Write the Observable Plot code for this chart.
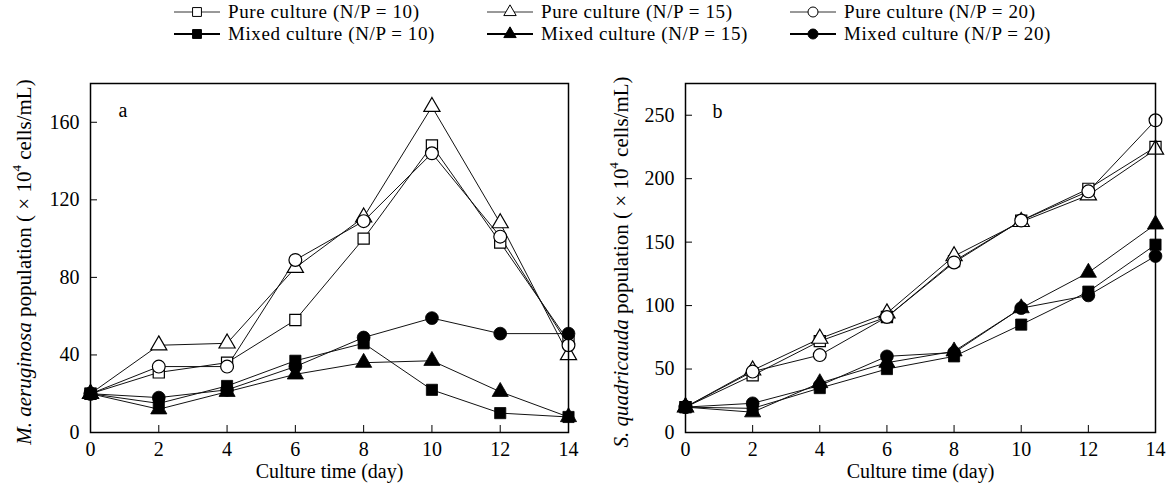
<!DOCTYPE html>
<html>
<head>
<meta charset="utf-8">
<script src="https://cdn.jsdelivr.net/npm/d3@7"></script>
<script src="https://cdn.jsdelivr.net/npm/@observablehq/plot@0.6"></script>
<style>
  body { margin: 0; background: #fff; font-family: "Liberation Serif", "Times New Roman", serif; }
  #wrap { position: relative; width: 1173px; height: 490px; overflow: hidden; }
  #legend { position: absolute; left: 0; top: 0; width: 1173px; height: 44px; }
  .item { position: absolute; display: flex; align-items: center; height: 18px; line-height: 18px; font-size: 19px; letter-spacing: 0.6px; color: #000; white-space: nowrap; }
  .item svg { margin-right: 8px; }
  #pa { position: absolute; left: 0; top: 44px; }
  #pb { position: absolute; left: 590px; top: 44px; }
</style>
</head>
<body>
<div id="wrap">
  <div id="legend"></div>
  <div id="pa"></div>
  <div id="pb"></div>
</div>
<script>
// ---- data ----
const days = [0, 2, 4, 6, 8, 10, 12, 14];
const seriesNames = [
  "Pure culture (N/P = 10)", "Pure culture (N/P = 15)", "Pure culture (N/P = 20)",
  "Mixed culture (N/P = 10)", "Mixed culture (N/P = 15)", "Mixed culture (N/P = 20)"
];
const seriesSymbols = ["square", "triangle", "circle", "square", "triangle", "circle"];
const seriesFilled = [false, false, false, true, true, true];

// Panel a: M. aeruginosa
const aPure10  = [20, 31, 36, 58, 100, 148, 98, 47];
const aPure15  = [20, 45, 46, 85, 111, 168, 108, 40];
const aPure20  = [20, 34, 34, 89, 109, 144, 101, 45];
const aMixed10 = [20, 15, 24, 37, 46, 22, 10, 8];
const aMixed15 = [20, 12, 21, 30, 36, 37, 21, 8];
const aMixed20 = [20, 18, 22, 34, 49, 59, 51, 51];

// Panel b: S. quadricauda
const bPure10  = [20, 45, 72, 91, 135, 167, 192, 225];
const bPure15  = [20, 49, 74, 94, 139, 166, 187, 223];
const bPure20  = [20, 48, 61, 91, 134, 167, 190, 246];
const bMixed10 = [20, 19, 35, 50, 60, 85, 111, 148];
const bMixed15 = [20, 16, 39, 55, 64, 98, 126, 164];
const bMixed20 = [20, 23, 37, 60, 63, 98, 108, 139];

const aTicks = [0, 40, 80, 120, 160];
const bTicks = [0, 50, 100, 150, 200, 250];
const xLabel = "Culture time (day)";

// ---- helpers ----
const FONT = "Liberation Serif, Times New Roman, serif";
const symbolR = {square: 6.3, triangle: 6, circle: 6.4};

function buildRows(seriesArrays) {
  const rows = [];
  seriesArrays.forEach((vals, i) => {
    vals.forEach((v, j) => rows.push({series: seriesNames[i], idx: i, day: days[j], value: v}));
  });
  return rows;
}

function panel({seriesArrays, yDomain, yTicks, width, marginLeft, marginRight, letter, letterDx, letterDy}) {
  const rows = buildRows(seriesArrays);
  const marks = [];
  seriesNames.forEach((name, i) => {
    marks.push(Plot.line(rows.filter(d => d.idx === i), {x: "day", y: "value", stroke: "#111", strokeWidth: 1}));
  });
  seriesNames.forEach((name, i) => {
    marks.push(Plot.dot(rows.filter(d => d.idx === i), {
      x: "day", y: "value",
      symbol: () => seriesSymbols[i],
      r: symbolR[seriesSymbols[i]],
      fill: seriesFilled[i] ? "#000" : "#fff",
      stroke: "#000",
      strokeWidth: seriesFilled[i] ? 0.8 : 1.2
    }));
  });
  marks.push(Plot.frame({stroke: "#000", strokeWidth: 1.5}));
  marks.push(Plot.axisX({ticks: days, tickSize: -7, tickPadding: 16, label: null, fontSize: 20, tickFormat: d => d}));
  marks.push(Plot.axisY({ticks: yTicks, tickSize: -7, tickPadding: 18, label: null, fontSize: 20, tickFormat: d => d}));
  marks.push(Plot.text([letter], {frameAnchor: "top-left", dx: letterDx, dy: letterDy, fontSize: 20, textAnchor: "start", lineAnchor: "top"}));
  marks.push(Plot.text([xLabel], {frameAnchor: "bottom", dy: 39, fontSize: 20, lineAnchor: "middle"}));
  const svg = Plot.plot({
    width, height: 446,
    marginLeft, marginRight, marginTop: 39, marginBottom: 58,
    style: {fontFamily: FONT, fontSize: "20px", color: "#000", background: "#fff", overflow: "visible"},
    x: {domain: [0, 14]},
    y: {domain: yDomain},
    symbol: {type: "identity"},
    marks
  });
  d3.select(svg).selectAll("text").attr("font-family", FONT).style("font-family", FONT);
  return svg;
}

function addYLabel(svg, cx, cy, species) {
  const t = d3.select(svg).append("text")
    .attr("transform", `translate(${cx},${cy}) rotate(-90)`)
    .attr("text-anchor", "middle")
    .attr("dominant-baseline", "middle")
    .attr("font-family", FONT)
    .attr("font-size", 21)
    .attr("fill", "#000");
  t.append("tspan").attr("font-style", "italic").text(species);
  t.append("tspan").text(" population ( \u00d7 10");
  t.append("tspan").attr("font-size", 13).attr("baseline-shift", "super").text("4");
  t.append("tspan").text(" cells/mL)");
}

const svgA = panel({
  seriesArrays: [aPure10, aPure15, aPure20, aMixed10, aMixed15, aMixed20],
  yDomain: [0, 180], yTicks: aTicks, width: 590, marginLeft: 90, marginRight: 22,
  letter: "a", letterDx: 28, letterDy: 19
});
document.getElementById("pa").appendChild(svgA);
addYLabel(svgA, 26, 218, "M. aeruginosa");

const svgB = panel({
  seriesArrays: [bPure10, bPure15, bPure20, bMixed10, bMixed15, bMixed20],
  yDomain: [0, 275], yTicks: bTicks, width: 583, marginLeft: 95, marginRight: 18,
  letter: "b", letterDx: 27, letterDy: 20
});
document.getElementById("pb").appendChild(svgB);
addYLabel(svgB, 33, 218, "S. quadricauda");

// ---- legend ----
const legendCols = [174, 487, 790];
const legendRows = [3, 25];
const legend = d3.select("#legend");
seriesNames.forEach((name, i) => {
  const col = i % 3, row = Math.floor(i / 3);
  const item = legend.append("div").attr("class", "item")
    .style("left", legendCols[col] + "px").style("top", legendRows[row] + "px");
  const s = item.append("svg").attr("width", 46).attr("height", 18);
  s.append("line").attr("x1", 0).attr("x2", 46).attr("y1", 9).attr("y2", 9)
    .attr("stroke", seriesFilled[i] ? "#000" : "#333").attr("stroke-width", seriesFilled[i] ? 2 : 1);
  const sym = {square: d3.symbolSquare, triangle: d3.symbolTriangle, circle: d3.symbolCircle}[seriesSymbols[i]];
  const rr = seriesSymbols[i] === "triangle" ? 4.6 : 5;
  s.append("path").attr("d", d3.symbol(sym, Math.PI * rr * rr)())
    .attr("transform", "translate(23,9)")
    .attr("fill", seriesFilled[i] ? "#000" : "#fff")
    .attr("stroke", "#000").attr("stroke-width", 1);
  item.append("span").text(name);
});
</script>
</body>
</html>
